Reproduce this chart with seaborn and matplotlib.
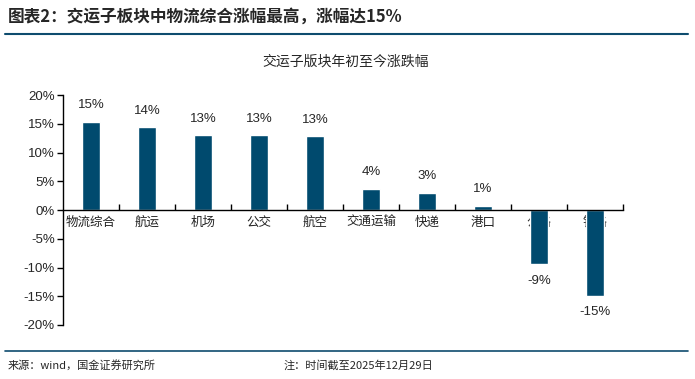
import matplotlib
matplotlib.use("Agg")
import matplotlib.pyplot as plt
import seaborn as sns
from matplotlib.lines import Line2D

categories = ["物流综合", "航运", "机场", "公交", "航空", "交通运输", "快递", "港口", "公路", "铁路"]
values = [15.4, 14.4, 13.0, 13.0, 12.8, 3.7, 3.0, 0.7, -9.4, -14.9]
y_ticks = [-20, -15, -10, -5, 0, 5, 10, 15, 20]

header = "图表2：交运子板块中物流综合涨幅最高，涨幅达15%"
chart_title = "交运子版块年初至今涨跌幅"
source = "来源：wind，国金证券研究所"
note = "注：时间截至2025年12月29日"

bar_color = "#004A6E"
line_color = "#0E4C6E"

sns.set_style("white")
plt.rcParams["font.family"] = ["Noto Sans CJK SC", "DejaVu Sans"]

fig = plt.figure(figsize=(6.95, 3.79), dpi=100)
ax = fig.add_axes([0.0906, 0.1425, 0.806, 0.6066])

sns.barplot(x=categories, y=values, color=bar_color, width=0.32, saturation=1, ax=ax)

ax.set_ylim(-20, 20)
ax.set_xlim(-0.5, len(categories) - 0.5)
ax.set_yticks(y_ticks)
ax.set_yticklabels([f"{t}%" for t in y_ticks], family="Liberation Sans", fontsize=9.5)
ax.set_xlabel("")
ax.set_ylabel("")

# spines: left axis + zero line
for s in ["top", "right"]:
    ax.spines[s].set_visible(False)
ax.spines["bottom"].set_position(("data", 0))
ax.spines["bottom"].set_color("black")
ax.spines["left"].set_color("black")
ax.spines["bottom"].set_linewidth(1)
ax.spines["left"].set_linewidth(1)

ax.tick_params(axis="y", direction="out", length=4, width=1, color="black", left=True, pad=2)
ax.tick_params(axis="x", which="major", length=0, pad=4, labelsize=9)
ax.set_xticks([i + 0.5 for i in range(len(categories))], minor=True)
ax.tick_params(axis="x", which="minor", direction="in", length=4, width=1, color="black", bottom=True)
for lbl in ax.get_xticklabels():
    lbl.set_fontsize(9)
    lbl.set_color("#222222")

# value labels
for i, v in enumerate(values):
    off = 12 if v >= 0 else -12
    ax.annotate(f"{round(v):.0f}%", (i, v), xytext=(0, off), textcoords="offset points",
                ha="center", va="center", fontsize=9.5, family="Liberation Sans")

# header, title, footer
fig.text(0.011, 0.955, header, fontsize=12, fontweight="bold", va="center", ha="left")
fig.add_artist(Line2D([0.007, 0.99], [0.911, 0.911], color=line_color, lw=1.5, transform=fig.transFigure))
fig.text(0.497, 0.838, chart_title, fontsize=10, ha="center", va="center")
fig.add_artist(Line2D([0.007, 0.99], [0.074, 0.074], color=line_color, lw=1.2, transform=fig.transFigure))
fig.text(0.011, 0.036, source, fontsize=8, va="center", ha="left")
fig.text(0.408, 0.036, note, fontsize=8, va="center", ha="left")

fig.savefig("out.png", dpi=100)
